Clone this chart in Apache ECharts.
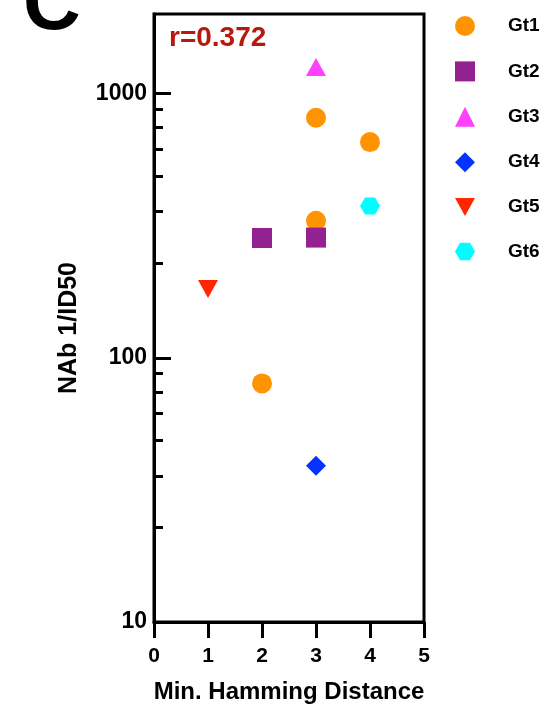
<!DOCTYPE html>
<html>
<head>
<meta charset="utf-8">
<script src="https://cdn.jsdelivr.net/npm/echarts@6/dist/echarts.min.js"></script>
<style>
  html, body { margin: 0; padding: 0; background: #fff; }
  #chart { width: 559px; height: 712px; }
</style>
</head>
<body>
<div id="chart"></div>
<script>
// data
const groups = ["Gt1", "Gt2", "Gt3", "Gt4", "Gt5", "Gt6"];
const gt1 = [[2, 80], [3, 810], [3, 330], [4, 655]];
const gt2 = [[2, 284], [3, 285]];
const gt3 = [[3, 1260]];
const gt4 = [[3, 39]];
const gt5 = [[1, 182]];
const gt6 = [[4, 375]];
const xTicks = [0, 1, 2, 3, 4, 5];
const yMajor = [10, 100, 1000];
const yMinor = [22.86, 35.71, 48.57, 61.43, 74.29, 87.14,
                228.6, 357.1, 485.7, 614.3, 742.9, 871.4];
const rText = "r=0.372";

const colors = ["#FF9300", "#942192", "#FF40FF", "#0433FF", "#FF2600", "#00FDFF"];
const symbols = [
  "circle",
  "rect",
  "triangle",
  "diamond",
  "path://M0,0 L20,0 L10,18 Z",
  "path://M0,8.66 L5,0 L15,0 L20,8.66 L15,17.32 L5,17.32 Z"
];
const sizes = [20, 20, [20, 18], 20, [20, 18], [20, 17]];
const seriesData = [gt1, gt2, gt3, gt4, gt5, gt6];

const font = "Liberation Sans, Arial, sans-serif";

const chart = echarts.init(document.getElementById("chart"));

let option = {
  animation: false,
  textStyle: { fontFamily: font },
  grid: {
    left: 154, right: 135, top: 14, bottom: 90,
    show: true, borderColor: "#000", borderWidth: 3
  },
  graphic: [
    {
      type: "text", left: 23, top: -33,
      style: { text: "C", font: "bold 80px " + font, fill: "#000" }
    },
    {
      type: "text", left: 169, top: 24,
      style: { text: rText, font: "bold 28px " + font, fill: "#B8190E" }
    }
  ],
  legend: {
    orient: "vertical",
    left: 450, top: 11,
    itemWidth: 20, itemHeight: 20,
    itemGap: 25.4,
    data: groups,
    textStyle: {
      fontFamily: font, fontWeight: "bold", fontSize: 19, color: "#000",
      padding: [0, 0, 0, 28]
    }
  },
  xAxis: {
    type: "value",
    min: 0, max: 5, interval: 1,
    name: "Min. Hamming Distance",
    nameLocation: "middle",
    nameGap: 58,
    nameTextStyle: { fontWeight: "bold", fontSize: 24, color: "#000", fontFamily: font },
    axisLine: { lineStyle: { color: "#000", width: 3 } },
    axisTick: { show: true, length: 16, lineStyle: { color: "#000", width: 3 },
      customValues: xTicks },
    axisLabel: { fontWeight: "bold", fontSize: 21, color: "#000", margin: 24,
      customValues: xTicks },
    splitLine: { show: false }
  },
  yAxis: [
    {
      type: "log",
      min: 10, max: 2000,
      name: "NAb 1/ID50",
      nameLocation: "middle",
      nameGap: 72,
      nameTextStyle: { fontWeight: "bold", fontSize: 25, color: "#000", fontFamily: font,
        padding: [0, 20, 0, 0] },
      axisLine: { lineStyle: { color: "#000", width: 3 } },
      axisTick: { show: true, inside: true, length: 17,
        lineStyle: { color: "#000", width: 3 }, customValues: yMajor },
      axisLabel: { fontWeight: "bold", fontSize: 23, color: "#000", margin: 7,
        customValues: yMajor, formatter: (v) => String(v) },
      splitLine: { show: false }
    },
    {
      type: "log",
      min: 10, max: 2000,
      position: "left",
      axisLine: { show: false },
      axisTick: { show: true, inside: true, length: 9,
        lineStyle: { color: "#000", width: 3 }, customValues: yMinor },
      axisLabel: { show: false },
      splitLine: { show: false }
    }
  ],
  series: groups.map((name, i) => ({
    name: name,
    type: "scatter",
    data: seriesData[i],
    symbol: symbols[i],
    symbolSize: sizes[i],
    itemStyle: { color: colors[i], opacity: 1 },
    z: 3
  }))
};

chart.setOption(option);
</script>
</body>
</html>
